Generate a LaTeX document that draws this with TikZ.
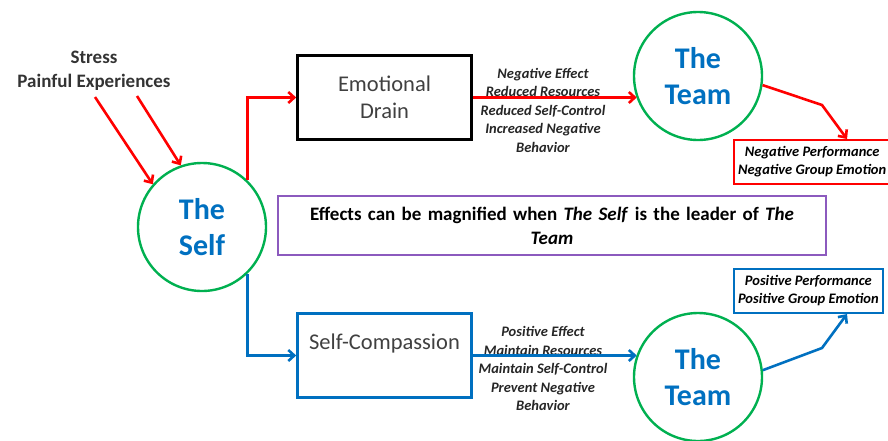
\documentclass[tikz,border=0pt]{standalone}
\usepackage{fontspec}
\setmainfont{Carlito}
\usepackage{tikz}
\usetikzlibrary{arrows,arrows.meta,calc}
\definecolor{selfblue}{RGB}{0,112,192}
\definecolor{ringgreen}{RGB}{0,176,80}
\definecolor{notepurple}{RGB}{140,90,190}
\definecolor{draingray}{RGB}{64,64,64}
\tikzstyle{person} = [circle, draw=ringgreen, line width=2.4pt, minimum size=128pt, inner sep=0pt, text=selfblue, align=center, font=\bfseries\fontsize{30}{36}\selectfont]
\tikzstyle{stepbox} = [draw, line width=2.6pt, minimum width=174pt, minimum height=84pt, align=center, text=draingray, font=\fontsize{22.5}{27}\selectfont]
\tikzstyle{outcome} = [draw, line width=2pt, minimum height=44pt, inner xsep=4pt, align=center, font=\bfseries\itshape\fontsize{14.5}{18}\selectfont]
\tikzstyle{effect} = [align=center, text=black!85, font=\bfseries\itshape\fontsize{14.5}{18.5}\selectfont]
\tikzstyle{arrow} = [draw, ->, line width=2.6pt]

\begin{document}
\begin{tikzpicture}[x=1pt, y=-1pt, >={Straight Barb[length=6pt,width=11pt]}]
\useasboundingbox (0,0) rectangle (888,440);
\clip (0,0) rectangle (888,440);

%% the self and what hits it
\node[align=center, text=black!80, font=\bfseries\fontsize{19}{24}\selectfont] (stress) at (94,71) {Stress\\Painful Experiences};
\node[person] (self) at (202,227) {The\\Self};
\coordinate (hit1) at (95,97);
\coordinate (hit2) at (137,96);
\draw[arrow, red] (hit1) -- (self.139);
\draw[arrow, red] (hit2) -- (self.109);

%% negative path
\node[stepbox, draw=black] (drain) at (384.5,97.5) {Emotional\\Drain};
\draw[arrow, red] (self.46) |- (drain.west);
\node[effect] (negeff) at (543,110) {Negative Effect\\Reduced Resources\\Reduced Self-Control\\Increased Negative\\Behavior};
\node[person] (team1) at (698,76) {The\\Team};
\draw[arrow, red] (drain.east) -- (drain.east -| team1.200);
\node[outcome, draw=red, anchor=west] (neg) at (733,162) {Negative Performance\\Negative Group Emotion};
\coordinate (negbend) at (822,105);
\draw[arrow, red] (team1.352) -- (negbend) -- ($(neg.north west)+(114,0)$);

%% note
\node[draw=notepurple, line width=2pt, minimum width=548pt, minimum height=59pt, text width=530pt, align=center, font=\bfseries\fontsize{19}{24}\selectfont] (lead) at (552,225.5) {Effects can be magnified when \textit{The Self} is the leader of \textit{The}\\\textit{Team}};

%% positive path
\node[stepbox, draw=selfblue] (compassion) at (384.5,355.5) {Self-Compassion\\\mbox{}};
\draw[arrow, selfblue] (self.-46) |- (compassion.west);
\node[effect] (poseff) at (543,368.5) {Positive Effect\\Maintain Resources\\Maintain Self-Control\\Prevent Negative\\Behavior};
\node[person] (team2) at (698,377) {The\\Team};
\draw[arrow, selfblue] (compassion.east) -- (compassion.east -| team2.160);
\node[outcome, draw=selfblue, anchor=west] (pos) at (733,291) {Positive Performance\\Positive Group Emotion};
\coordinate (posbend) at (822,348);
\draw[arrow, selfblue] (team2.6) -- (posbend) -- ($(pos.south west)+(114,0)$);
\end{tikzpicture}
\end{document}
